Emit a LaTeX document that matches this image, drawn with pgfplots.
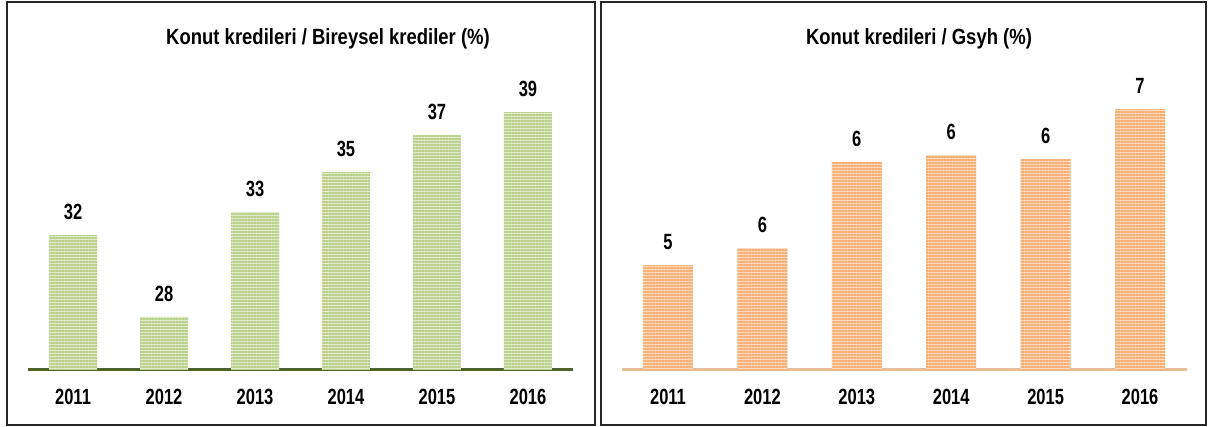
\documentclass[border=0pt]{standalone}
\usepackage{pgfplots}
\pgfplotsset{compat=1.18}
\usepackage{fontspec}
\setmainfont{Liberation Sans}[FakeStretch=0.75]
\newfontfamily\titlefont{Liberation Sans}[FakeStretch=0.84]
\usetikzlibrary{patterns.meta}
\definecolor{gLight}{HTML}{E1EBC9}
\definecolor{gDark}{HTML}{B9D08A}
\definecolor{oLight}{HTML}{FCD9BC}
\definecolor{oDark}{HTML}{F7AE72}
\definecolor{gLine}{HTML}{4F6228}
\definecolor{oLine}{HTML}{E8BE98}
\pgfplotstableread{
x y lab
0 31.82 32
1 27.62 28
2 33.00 33
3 35.05 35
4 36.95 37
5 38.13 39
}\leftdata
\pgfplotstableread{
x y lab
0 4.80 5
1 5.08 6
2 6.52 6
3 6.63 6
4 6.57 6
5 7.40 7
}\rightdata
\pgfplotsset{
  panel/.style={
    scale only axis, anchor=south west, height=310pt,
    axis y line=none, axis x line*=bottom,
    xtick={0,...,5}, xticklabels={2011,2012,2013,2014,2015,2016},
    major tick length=0pt,
    xticklabel style={anchor=center, yshift=-27pt, font=\fontsize{22}{24}\selectfont\bfseries},
    ybar, point meta=explicit symbolic, nodes near coords,
    every node near coord/.append style={anchor=center, yshift=23pt, text=black, font=\fontsize{22}{24}\selectfont\bfseries},
  }
}
\begin{document}
\begin{tikzpicture}[x=1pt,y=1pt]
\path (0,0) rectangle (1214,427);
\draw[line width=1.4pt, black!85] (7,2) rectangle (595,425);
\draw[line width=1.4pt, black!85] (601,2) rectangle (1206,425);
\node[font=\titlefont\fontsize{22}{24}\selectfont\bfseries] at (328,388) {Konut kredileri / Bireysel krediler (\%)};
\node[font=\titlefont\fontsize{22}{24}\selectfont\bfseries] at (919,388) {Konut kredileri / Gsyh (\%)};
\begin{axis}[panel, at={(28pt,57pt)}, width=545pt,
  xmin=-0.495, xmax=5.495, ymin=24.9, ymax=40.797,
  x axis line style={line width=3pt, color=gLine, -},
  bar width=48pt]
\addplot[draw=none, fill=gLight, postaction={pattern={Lines[angle=0,distance=3pt,line width=1.5pt]}, pattern color=gDark}]
  table[x=x, y=y, meta=lab] {\leftdata};
\end{axis}
\begin{axis}[panel, at={(622pt,57pt)}, width=565pt,
  xmin=-0.487, xmax=5.498, ymin=3.05, ymax=8.217,
  x axis line style={line width=3pt, color=oLine, -},
  bar width=50pt]
\addplot[draw=none, fill=oLight, postaction={pattern={Lines[angle=0,distance=3pt,line width=1.5pt]}, pattern color=oDark}]
  table[x=x, y=y, meta=lab] {\rightdata};
\end{axis}
\end{tikzpicture}
\end{document}
